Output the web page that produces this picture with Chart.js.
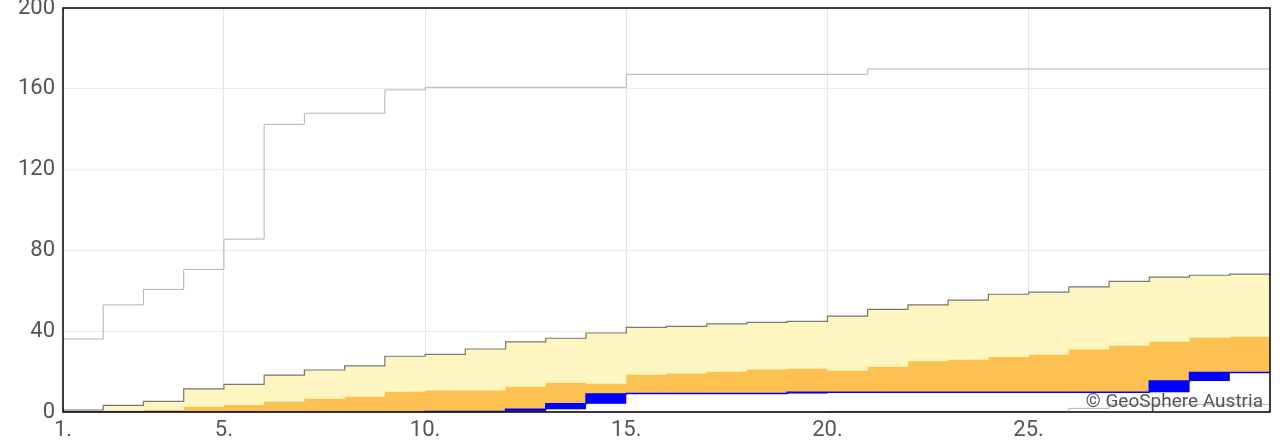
<!DOCTYPE html>
<html>
<head>
<meta charset="utf-8">
<script src="https://cdn.jsdelivr.net/npm/chart.js@4/dist/chart.umd.min.js"></script>
<style>
  html, body { margin: 0; padding: 0; background: #fff; }
  #wrap { width: 1280px; height: 448px; }
</style>
</head>
<body>
<div id="wrap"><canvas id="precip-chart" width="1280" height="448"></canvas></div>
<script>
// Cumulative precipitation per day of month (mm)
const days = [1, 2, 3, 4, 5, 6, 7, 8, 9, 10, 11, 12, 13, 14, 15, 16, 17, 18, 19, 20, 21, 22, 23, 24, 25, 26, 27, 28, 29, 30];
const maxSum = [36.1, 53, 60.7, 70.6, 85.6, 142.4, 147.9, 147.9, 159.4, 160.7, 160.7, 160.7, 160.7, 160.7, 167.2, 167.2, 167.2, 167.2, 167.2, 167.2, 169.8, 169.8, 169.8, 169.8, 169.8, 169.8, 169.8, 169.8, 169.8, 169.8];
const upperSum = [1, 3.3, 5.3, 11.4, 13.7, 18.3, 20.8, 22.8, 27.6, 28.5, 31.2, 34.7, 36.5, 39.1, 41.9, 42.4, 43.6, 44.4, 44.9, 47.5, 50.8, 53, 55.4, 58.3, 59.3, 61.9, 64.7, 66.8, 67.7, 68.3];
const medianSum = [0, 0.3, 1, 2.6, 3.5, 5.1, 6.6, 7.6, 10, 10.7, 10.7, 12.5, 14.5, 14, 18.5, 19, 19.9, 21.1, 21.4, 20.4, 22.4, 25.1, 25.9, 27.2, 28.4, 30.9, 32.8, 34.8, 36.8, 37.3];
const minSum = [0, 0, 0, 0, 0, 0, 0, 0, 0, 0, 0, 0, 0, 0, 0, 0, 0, 0, 0, 0.3, 0.3, 0.3, 0.3, 0.3, 0.3, 1.8, 3.8, 3.8, 3.8, 3.8];
const obsSum = [0, 0, 0, 0, 0, 0, 0, 0, 0, 0.3, 0.3, 1.3, 4.1, 8.9, 9.2, 9.2, 9.2, 9.2, 9.8, 9.8, 9.8, 9.8, 9.8, 9.8, 9.8, 9.8, 9.8, 15.3, 19.6, 19.6];
const xTicks = [1, 5, 10, 15, 20, 25];
const yTicks = [0, 40, 80, 120, 160, 200];

// each day covers x = d .. d+1, so repeat the last value at day 31
function steps(values) {
    const pts = days.map((d, i) => ({ x: d, y: values[i] }));
    pts.push({ x: days[days.length - 1] + 1, y: values[values.length - 1] });
    return pts;
}

// value before today's rain -> blue block shows the daily amount
const obsPrev = obsSum.map((v, i) => i === 0 ? 0 : obsSum[i - 1]);

const frame = {
    id: 'frame',
    afterDraw(chart) {
        const a = chart.chartArea;
        const ctx = chart.ctx;
        ctx.save();
        ctx.strokeStyle = '#000';
        ctx.lineWidth = 1.5;
        ctx.strokeRect(a.left, a.top, a.right - a.left, a.bottom - a.top);
        ctx.fillStyle = '#555';
        ctx.font = '19px Roboto';
        ctx.textAlign = 'right';
        ctx.textBaseline = 'alphabetic';
        ctx.fillText('\u00a9 GeoSphere Austria', a.right - 7, a.bottom - 5);
        ctx.restore();
    }
};

const base = { stepped: 'before', pointRadius: 0, tension: 0, borderWidth: 0 };

new Chart(document.getElementById('precip-chart'), {
    type: 'line',
    data: {
        datasets: [
            Object.assign({}, base, { label: 'Max', data: steps(maxSum), borderColor: '#b3b3b3', borderWidth: 1, fill: false, order: 1 }),
            Object.assign({}, base, { label: 'Min', data: steps(minSum), borderColor: '#b3b3b3', borderWidth: 1, fill: false, order: 2 }),
            Object.assign({}, base, { label: 'Obs', data: steps(obsSum), borderColor: '#0000ff', borderWidth: 1.5, backgroundColor: '#0000ff', fill: '+1', order: 3 }),
            Object.assign({}, base, { label: 'ObsPrev', data: steps(obsPrev), borderColor: 'rgba(0,0,0,0)', backgroundColor: '#ffffff', fill: 'origin', order: 4 }),
            Object.assign({}, base, { label: 'Median', data: steps(medianSum), borderColor: 'rgba(0,0,0,0)', backgroundColor: '#fdc152', fill: 'origin', order: 5 }),
            Object.assign({}, base, { label: 'Upper', data: steps(upperSum), borderColor: '#777777', borderWidth: 1.2, backgroundColor: '#fef6c0', fill: 'origin', order: 6 })
        ]
    },
    options: {
        responsive: false,
        animation: false,
        layout: { padding: { top: 8, right: 10, left: 0, bottom: 0 } },
        plugins: {
            legend: { display: false },
            tooltip: { enabled: false }
        },
        scales: {
            x: {
                type: 'linear',
                min: 1,
                max: 31,
                afterBuildTicks: (axis) => { axis.ticks = xTicks.map(v => ({ value: v })); },
                afterFit: (axis) => { axis.height = 36; axis.paddingLeft = 0; axis.paddingRight = 0; },
                grid: { color: '#e6e6e6', drawTicks: false },
                border: { display: false },
                ticks: {
                    color: '#555',
                    font: { family: 'Roboto', size: 22 },
                    padding: 5,
                    maxRotation: 0,
                    callback: (v) => v + '.'
                }
            },
            y: {
                min: 0,
                max: 200,
                afterBuildTicks: (axis) => { axis.ticks = yTicks.map(v => ({ value: v })); },
                afterFit: (axis) => { axis.width = 63; axis.paddingTop = 0; axis.paddingBottom = 0; },
                grid: { color: '#ebebeb', drawTicks: false },
                border: { display: false },
                ticks: {
                    color: '#555',
                    font: { family: 'Roboto', size: 22 },
                    padding: 8
                }
            }
        }
    },
    plugins: [frame]
});
</script>
</body>
</html>
